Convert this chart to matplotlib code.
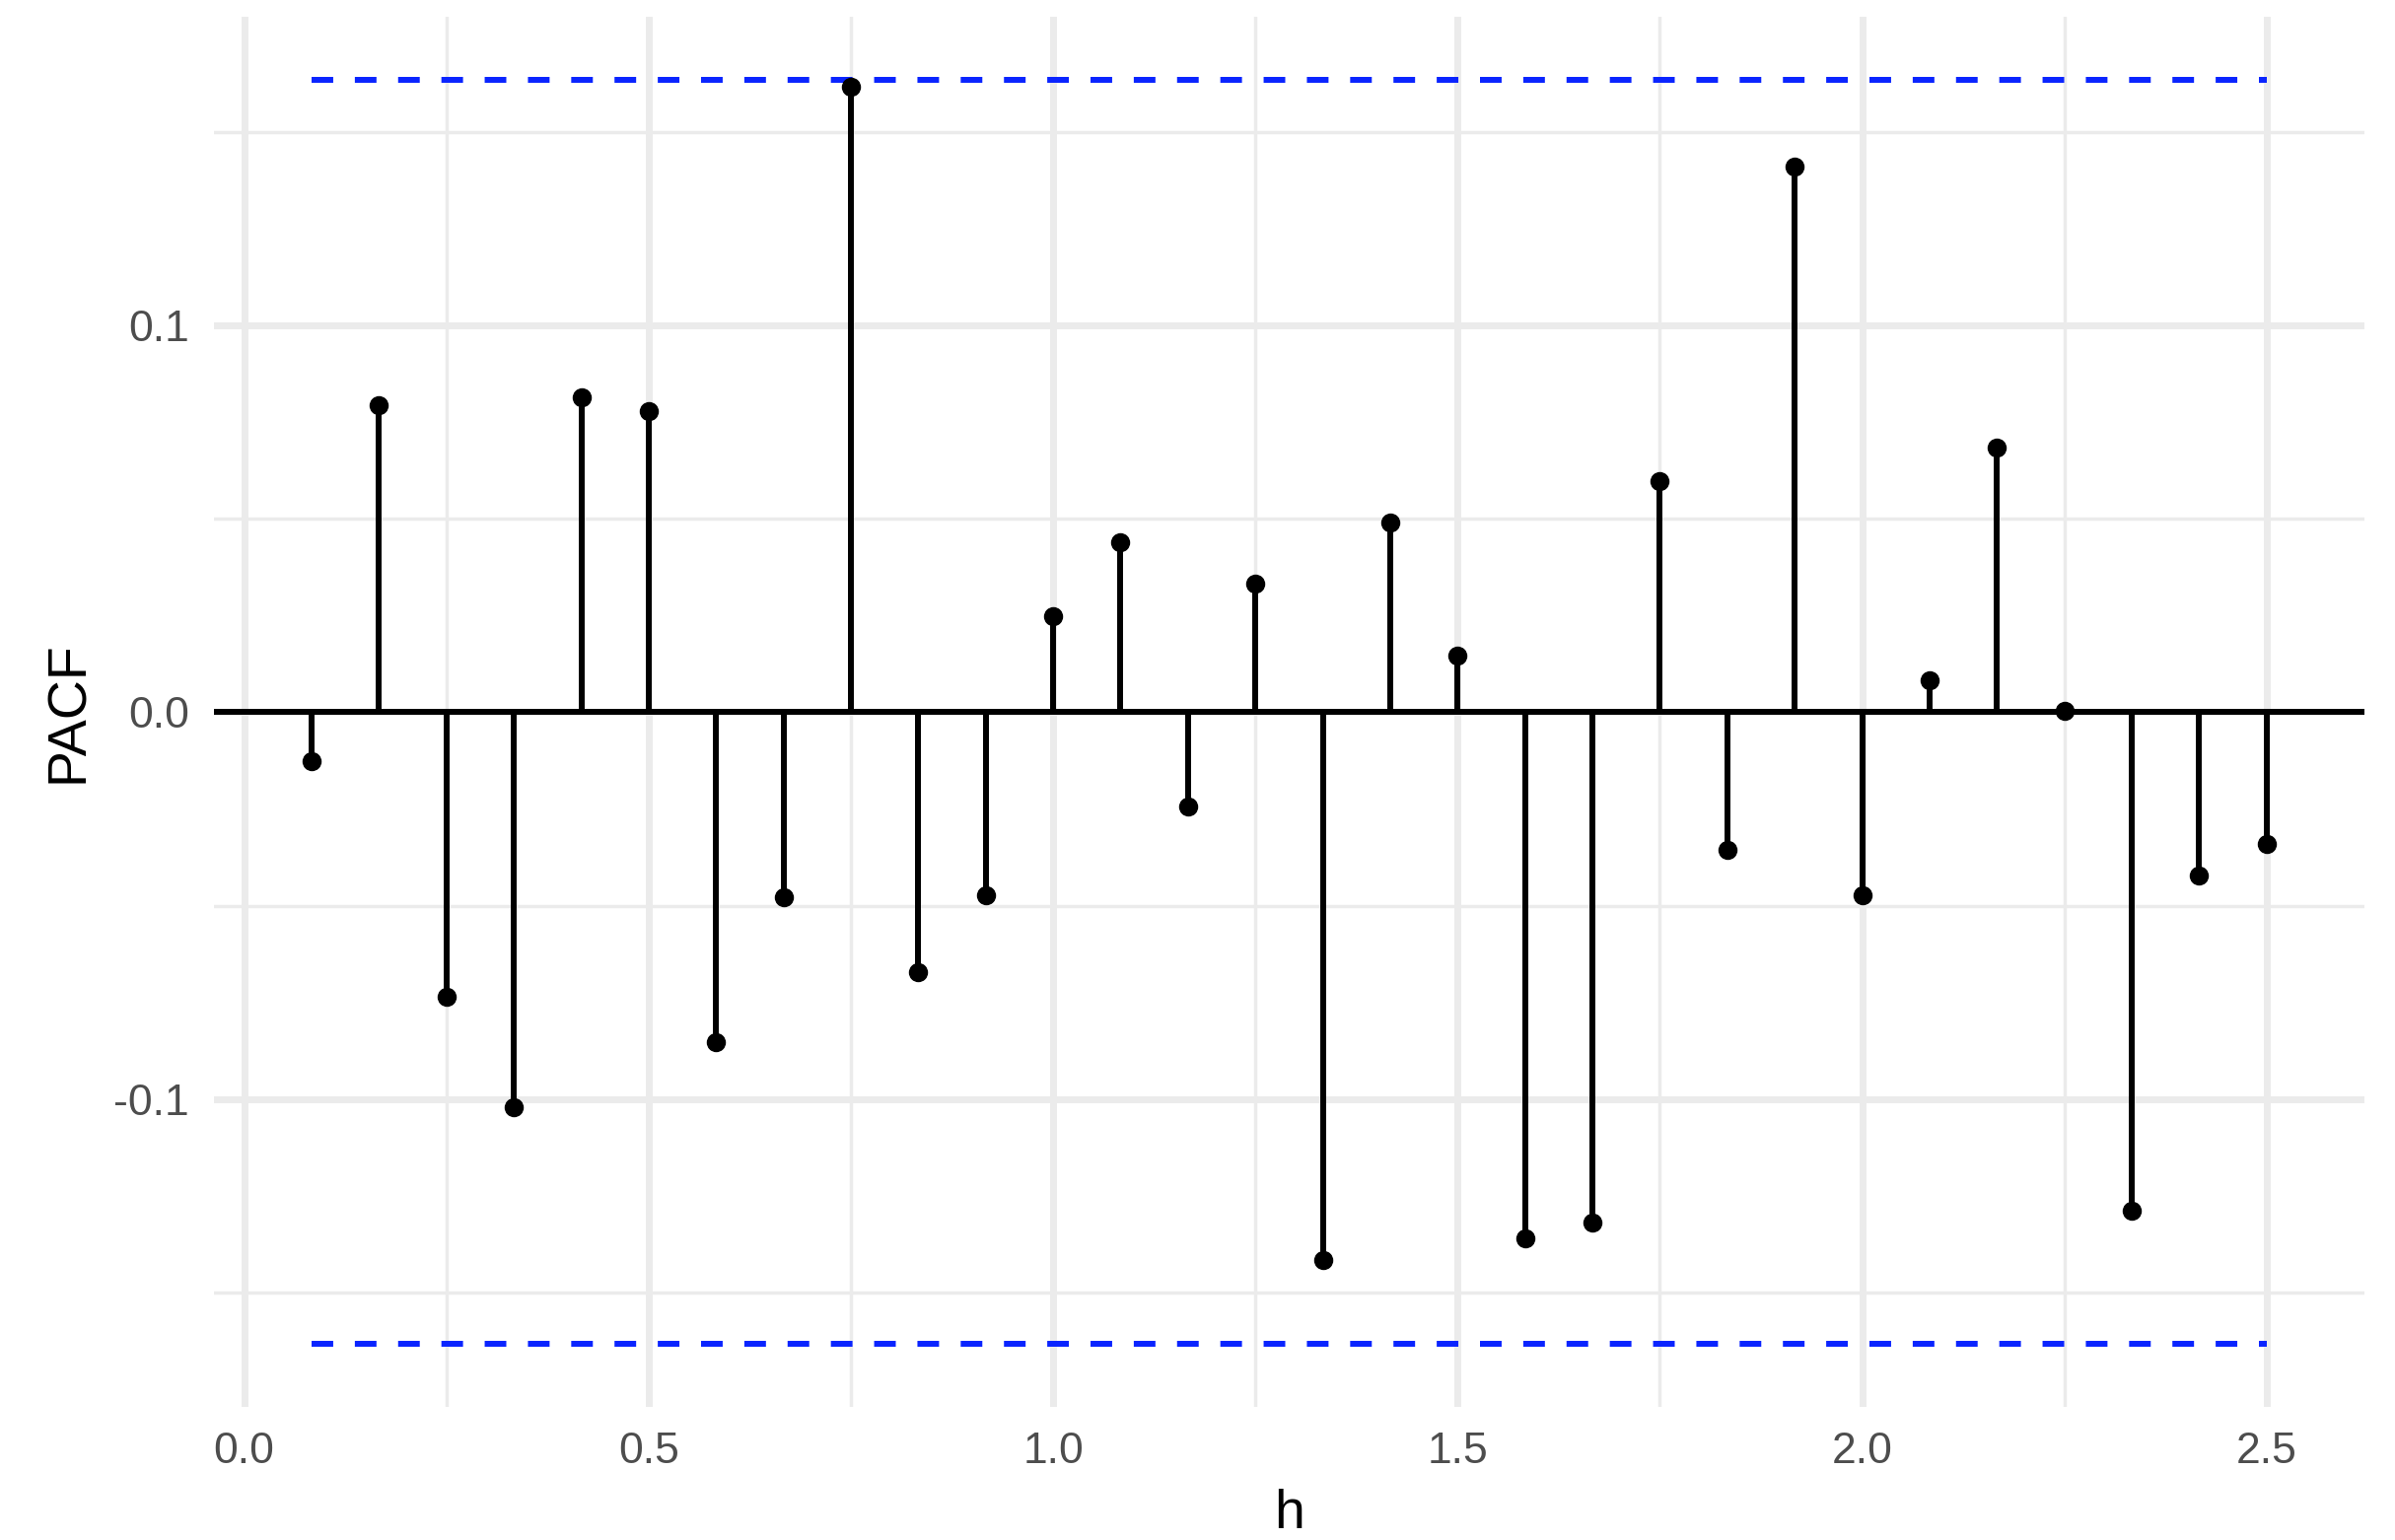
import numpy as np
import matplotlib
matplotlib.use("Agg")
import matplotlib.pyplot as plt

# partial autocorrelations at monthly lags (h in years)
lags = np.arange(1, 31)
h = lags / 12
pacf = [-0.0126, 0.0794, -0.0735, -0.1020, 0.0814, 0.0779, -0.0854, -0.0478,
        0.1617, -0.0672, -0.0474, 0.0249, 0.0439, -0.0245, 0.0332, -0.1415,
        0.0490, 0.0146, -0.1360, -0.1320, 0.0597, -0.0356, 0.1411, -0.0474,
        0.0083, 0.0684, 0.0004, -0.1289, -0.0423, -0.0340]
n_obs = 144
ci = 1.96 / np.sqrt(n_obs)

plt.rcParams["font.family"] = ["Liberation Sans", "DejaVu Sans"]
plt.rcParams["lines.scale_dashes"] = False

fig = plt.figure(figsize=(24.29, 15.62), dpi=100)
ax = fig.add_axes([0.0893, 0.0862, 0.8979, 0.9027])

grid = "#EBEBEB"
for x in np.arange(0, 2.51, 0.5):
    ax.axvline(x, color=grid, lw=5, zorder=0)
for x in np.arange(0.25, 2.3, 0.5):
    ax.axvline(x, color=grid, lw=2.5, zorder=0)
for y in [-0.1, 0.0, 0.1]:
    ax.axhline(y, color=grid, lw=5, zorder=0)
for y in [-0.15, -0.05, 0.05, 0.15]:
    ax.axhline(y, color=grid, lw=2.5, zorder=0)

ax.axhline(0, color="black", lw=4.3, zorder=2)
ax.vlines(h, 0, pacf, color="black", lw=4.3, zorder=3)
ax.plot(h, pacf, "o", color="black", ms=13, zorder=4)

for y in (ci, -ci):
    ax.plot([h[0], h[-1]], [y, y], color="#0A24FF", lw=4.3,
            dashes=(15.8, 15.8), zorder=3)

xr = h[-1] - h[0]
ax.set_xlim(h[0] - 0.05 * xr, h[-1] + 0.05 * xr)
ax.set_ylim(-ci * 1.1, ci * 1.1)
ax.set_xticks(np.arange(0, 2.51, 0.5))
ax.set_xticklabels(["0.0", "0.5", "1.0", "1.5", "2.0", "2.5"])
ax.set_yticks([-0.1, 0.0, 0.1])
ax.set_yticklabels(["-0.1", "0.0", "0.1"])
ax.tick_params(length=0, labelsize=32, labelcolor="#4D4D4D", pad=18)
for s in ax.spines.values():
    s.set_visible(False)

ax.set_xlabel("h", fontsize=40, labelpad=12)
ax.set_ylabel("PACF", fontsize=40, labelpad=14)

fig.savefig("out.png", dpi=100)
